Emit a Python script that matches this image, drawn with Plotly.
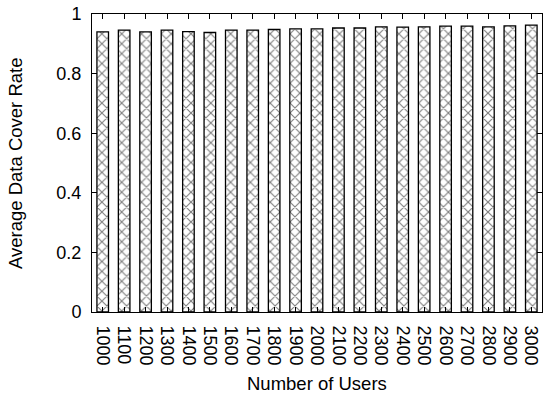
import plotly.graph_objects as go

users = ["1000", "1100", "1200", "1300", "1400", "1500", "1600", "1700", "1800", "1900", "2000",
         "2100", "2200", "2300", "2400", "2500", "2600", "2700", "2800", "2900", "3000"]
cover_rate = [0.940, 0.946, 0.940, 0.946, 0.941, 0.938, 0.946, 0.946, 0.948, 0.950, 0.950,
              0.953, 0.953, 0.957, 0.956, 0.957, 0.959, 0.959, 0.957, 0.960, 0.963]
y_ticks = [0, 0.2, 0.4, 0.6, 0.8, 1]
y_tick_labels = ["0", "0.2", "0.4", "0.6", "0.8", "1"]
x_title = "Number of Users"
y_title = "Average Data Cover Rate"

fig = go.Figure(go.Bar(
    x=users, y=cover_rate,
    marker=dict(color="white", line=dict(color="black", width=1.3),
                pattern=dict(shape="x", fgcolor="black", bgcolor="white", size=7, solidity=0.3)),
))

font = dict(family="Liberation Sans, Arial, sans-serif", color="black", size=18)
fig.update_layout(
    width=550, height=403,
    margin=dict(l=92, r=8, t=14, b=91),
    paper_bgcolor="white", plot_bgcolor="white",
    bargap=0.46, showlegend=False, font=font,
    xaxis=dict(tickangle=90, ticks="inside", ticklen=5, tickcolor="black",
               tickmode="array", tickvals=users, ticktext=users, ticklabelstandoff=9,
               showline=True, linecolor="black", linewidth=1, mirror="ticks",
               range=[-0.5, 20.5], tickfont=dict(size=18), automargin=False),
    yaxis=dict(range=[0, 1], ticks="inside", ticklen=5, tickcolor="black",
               showline=True, linecolor="black", linewidth=1, mirror="ticks", ticklabelstandoff=6,
               showgrid=False, zeroline=False, tickfont=dict(size=18), automargin=False,
               tickvals=y_ticks, ticktext=y_tick_labels),
    annotations=[
        dict(text=x_title, xref="paper", yref="paper", x=0.5, y=0, yshift=-71,
             showarrow=False, font=dict(size=18.5), xanchor="center", yanchor="middle"),
        dict(text=y_title, xref="paper", yref="paper", x=0, y=0.5, xshift=-77,
             textangle=-90, showarrow=False, font=dict(size=18.5), xanchor="center", yanchor="middle"),
    ],
)
fig.write_html("out.html", config={"displayModeBar": False},
               post_script="document.body.style.margin='0';document.body.style.overflow='hidden';")
